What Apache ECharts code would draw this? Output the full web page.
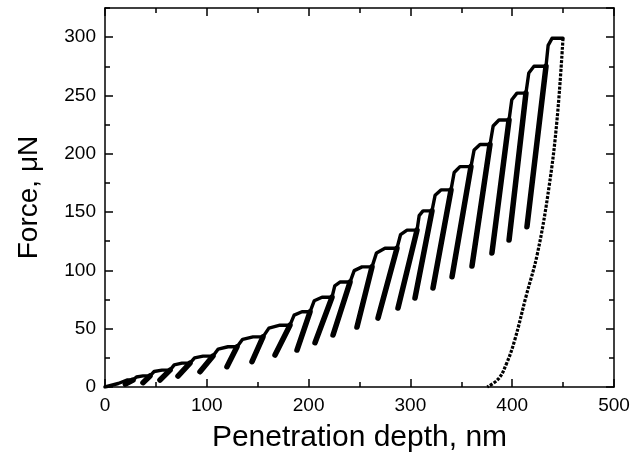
<!DOCTYPE html>
<html><head><meta charset="utf-8">
<script src="https://cdn.jsdelivr.net/npm/echarts@6/dist/echarts.min.js"></script>
<style>html,body{margin:0;padding:0;background:#fff}#c{width:634px;height:466px}</style>
</head><body><div id="c"></div>
<script>
// hold (plateau) loads of each cycle, µN
const holdLoad  = [6, 9.5, 14.5, 20.5, 26.5, 34.5, 43, 53, 64.5, 77, 90, 103, 119, 134.5, 151, 169, 189, 208, 229, 252, 275, 299];
// depth at start / end of each hold, nm
const holdStart = [21.6, 37.3, 56.0, 75.6, 96.3, 120.8, 145.4, 171.9, 193.5, 213.2, 230.8, 252.5, 275.0, 296.7, 312.4, 330.0, 348.7, 368.4, 387.0, 404.7, 421.4, 439.1];
const holdEnd   = [27.5, 44.2, 63.9, 83.5, 106.1, 129.7, 155.2, 181.7, 201.4, 223.0, 240.7, 262.3, 286.8, 306.5, 321.2, 339.9, 359.5, 378.2, 396.9, 413.5, 433.2, 449.9];
// bend of the loading curve before each hold
const kneeDepth = [13.0, 30.9, 48.3, 68.0, 88.0, 111.2, 135.2, 161.0, 185.8, 205.5, 225.7, 244.8, 266.7, 290.3, 308.6, 324.3, 343.0, 362.6, 381.3, 399.6, 416.3, 435.3];
const kneeLoad  = [3.0, 8.6, 13.3, 19.0, 25.0, 32.5, 40.9, 50.5, 61.6, 73.9, 86.8, 99.8, 115, 130.6, 146.9, 164.5, 184, 203.3, 223.8, 246.3, 269.3, 293];
// partial unloading minima
const minDepth  = [20.0, 37.3, 54.0, 71.7, 93.3, 119.8, 144.4, 167.0, 188.6, 206.3, 224.0, 247.5, 268.2, 287.8, 304.5, 322.2, 340.9, 360.5, 380.1, 396.9, 414.5];
const minLoad   = [2.5, 3.7, 6.0, 9.4, 13.1, 17.4, 21.7, 27.4, 31.7, 38.0, 44.6, 51.4, 59.1, 67.7, 76.3, 84.9, 94.5, 103.7, 114.9, 126.0, 137.4];
// final full unloading
const finalDepth = [449.9, 444.0, 436.2, 424.9, 413.5, 402.4, 394.4, 386.5, 375.5];
const finalLoad  = [299, 228.8, 171.7, 114.9, 77.4, 40, 20, 7, 0];
// ticks
const xTicks = [0, 100, 200, 300, 400, 500];
const yTicks = [0, 50, 100, 150, 200, 250, 300];
const yMax = 325;

const font = 'Liberation Sans, Arial, sans-serif';
const env = [[0, 0]];
for (let i = 0; i < holdLoad.length; i++) {
  env.push([kneeDepth[i], kneeLoad[i]]);
  env.push([holdStart[i], holdLoad[i]]);
  env.push([holdEnd[i], holdLoad[i]]);
}
const series = [{
  type: 'line', data: env, showSymbol: false, animation: false,
  lineStyle: {color: '#000', width: 3.4, cap: 'round', join: 'round'}
}];
for (let i = 0; i < minDepth.length; i++) {
  series.push({
    type: 'line', showSymbol: false, animation: false,
    data: [[holdEnd[i], holdLoad[i]], [minDepth[i], minLoad[i]]],
    lineStyle: {color: '#000', width: 5.5, cap: 'round', join: 'round'}
  });
}
series.push({
  type: 'line', showSymbol: false, animation: false, smooth: 0.4,
  data: finalDepth.map((d, i) => [d, finalLoad[i]]),
  lineStyle: {color: '#000', width: 3.2, type: [3, 1.4]}
});

const line = {show: true, onZero: false, lineStyle: {color: '#000', width: 1.5}};
function xAx(pos, labels) {
  return {
    type: 'value', position: pos, min: xTicks[0], max: xTicks[xTicks.length - 1],
    interval: xTicks[1] - xTicks[0],
    axisLine: line, splitLine: {show: false},
    axisTick: {show: true, inside: true, length: 8, lineStyle: {color: '#000', width: 1.5}},
    minorTick: {show: true, splitNumber: 2, length: 5, lineStyle: {color: '#000', width: 1.5}},
    axisLabel: {show: labels, color: '#000', fontSize: 19, fontFamily: font, margin: 9},
    name: labels ? 'Penetration depth, nm' : '', nameLocation: 'middle', nameGap: 36,
    nameTextStyle: {color: '#000', fontSize: 30, fontFamily: font}
  };
}
function yAx(pos, major, labels) {
  return {
    type: 'value', position: pos, min: yTicks[0], max: yMax,
    interval: major ? (yTicks[1] - yTicks[0]) : (yTicks[1] - yTicks[0]) / 2,
    axisLine: major ? line : {show: false, onZero: false}, splitLine: {show: false},
    axisTick: {show: true, inside: true, length: major ? 8 : 5, lineStyle: {color: '#000', width: 1.5}},
    axisLabel: {show: labels, color: '#000', fontSize: 19, fontFamily: font, margin: 9, showMaxLabel: false},
    name: labels ? 'Force, \u03bcN' : '', nameLocation: 'middle', nameGap: 62,
    nameTextStyle: {color: '#000', fontSize: 28, fontFamily: font}
  };
}
const chart = echarts.init(document.getElementById('c'), null, {renderer: 'canvas'});
chart.setOption({
  backgroundColor: '#fff',
  animation: false,
  grid: {left: 105, right: 20, top: 8, bottom: 79, containLabel: false},
  xAxis: [xAx('bottom', true), xAx('top', false)],
  yAxis: [yAx('left', true, true), yAx('right', true, false), yAx('left', false, false), yAx('right', false, false)],
  series: series
});
</script></body></html>
